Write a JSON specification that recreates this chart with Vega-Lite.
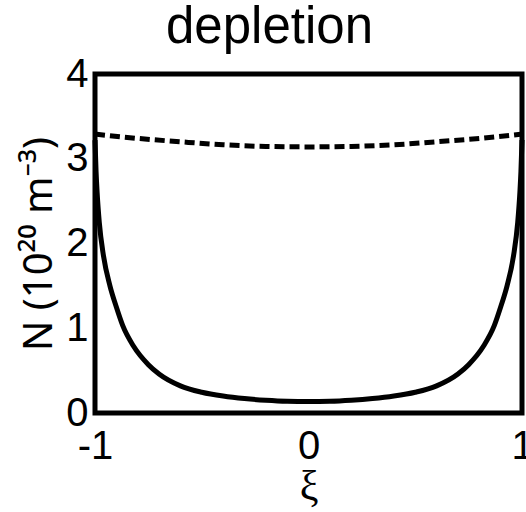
{
  "$schema": "https://vega.github.io/schema/vega-lite/v6.json",
  "autosize": "none",
  "width": 427,
  "height": 339,
  "padding": {"left": 95, "top": 74, "right": 4, "bottom": 99},
  "background": "white",
  "view": {"stroke": "black", "strokeWidth": 5},
  "title": {"text": "depletion", "fontSize": 51, "fontWeight": "normal", "font": "Liberation Sans", "color": "black", "dx": -39, "offset": 0},
  "datasets": {
    "solid": [
      {"xi": -1, "N": 3.22}, {"xi": -0.995, "N": 2.85}, {"xi": -0.99, "N": 2.6}, {"xi": -0.98, "N": 2.25},
      {"xi": -0.96, "N": 1.85}, {"xi": -0.93, "N": 1.5}, {"xi": -0.9, "N": 1.25}, {"xi": -0.87, "N": 1.03},
      {"xi": -0.82, "N": 0.79}, {"xi": -0.75, "N": 0.57}, {"xi": -0.7, "N": 0.46}, {"xi": -0.6, "N": 0.32},
      {"xi": -0.5, "N": 0.245}, {"xi": -0.4, "N": 0.2}, {"xi": -0.3, "N": 0.17}, {"xi": -0.2, "N": 0.15},
      {"xi": -0.1, "N": 0.138}, {"xi": 0, "N": 0.135},
      {"xi": 0.1, "N": 0.138}, {"xi": 0.2, "N": 0.15}, {"xi": 0.3, "N": 0.17}, {"xi": 0.4, "N": 0.2},
      {"xi": 0.5, "N": 0.245}, {"xi": 0.6, "N": 0.32}, {"xi": 0.7, "N": 0.46}, {"xi": 0.75, "N": 0.57},
      {"xi": 0.82, "N": 0.79}, {"xi": 0.87, "N": 1.03}, {"xi": 0.9, "N": 1.25}, {"xi": 0.93, "N": 1.5},
      {"xi": 0.96, "N": 1.85}, {"xi": 0.98, "N": 2.25}, {"xi": 0.99, "N": 2.6}, {"xi": 0.995, "N": 2.85}, {"xi": 1, "N": 3.22}
    ],
    "dashed": [
      {"xi": -1, "N": 3.29}, {"xi": -0.8, "N": 3.24}, {"xi": -0.6, "N": 3.2}, {"xi": -0.4, "N": 3.165},
      {"xi": -0.2, "N": 3.145}, {"xi": 0, "N": 3.14}, {"xi": 0.2, "N": 3.145}, {"xi": 0.4, "N": 3.165},
      {"xi": 0.6, "N": 3.2}, {"xi": 0.8, "N": 3.24}, {"xi": 1, "N": 3.29}
    ]
  },
  "encoding": {
    "x": {"field": "xi", "type": "quantitative", "scale": {"domain": [-1, 1], "nice": false, "zero": false},
      "axis": {"values": [-1, 0, 1], "labelExpr": "datum.value === 0 ? '0' : (datum.value < 0 ? '-1' : '1')", "domain": false, "ticks": false, "grid": false, "labelFontSize": 40, "labelFont": "Liberation Sans", "labelColor": "black", "labelPadding": 13, "labelFlush": false, "labelOverlap": false,
        "title": "ξ", "titleFont": "Liberation Serif", "titleFontSize": 42, "titleFontWeight": "normal", "titleColor": "black", "titlePadding": 0}},
    "y": {"field": "N", "type": "quantitative", "scale": {"domain": [0, 4], "nice": false},
      "axis": {"values": [0, 1, 2, 3, 4], "domain": false, "ticks": false, "grid": false, "labelFontSize": 40, "labelFont": "Liberation Sans", "labelColor": "black", "labelPadding": 7, "labelFlush": false, "labelOverlap": false,
        "title": "N (10²⁰ m⁻³)", "titleFont": "Noto Sans", "titleFontSize": 40, "titleFontWeight": "normal", "titleColor": "black", "titlePadding": 6}}
  },
  "layer": [
    {"data": {"name": "dashed"}, "mark": {"type": "line", "color": "black", "strokeWidth": 5, "strokeDash": [10, 5], "interpolate": "monotone"}},
    {"data": {"name": "solid"}, "mark": {"type": "line", "color": "black", "strokeWidth": 5, "interpolate": "monotone"}}
  ]
}
